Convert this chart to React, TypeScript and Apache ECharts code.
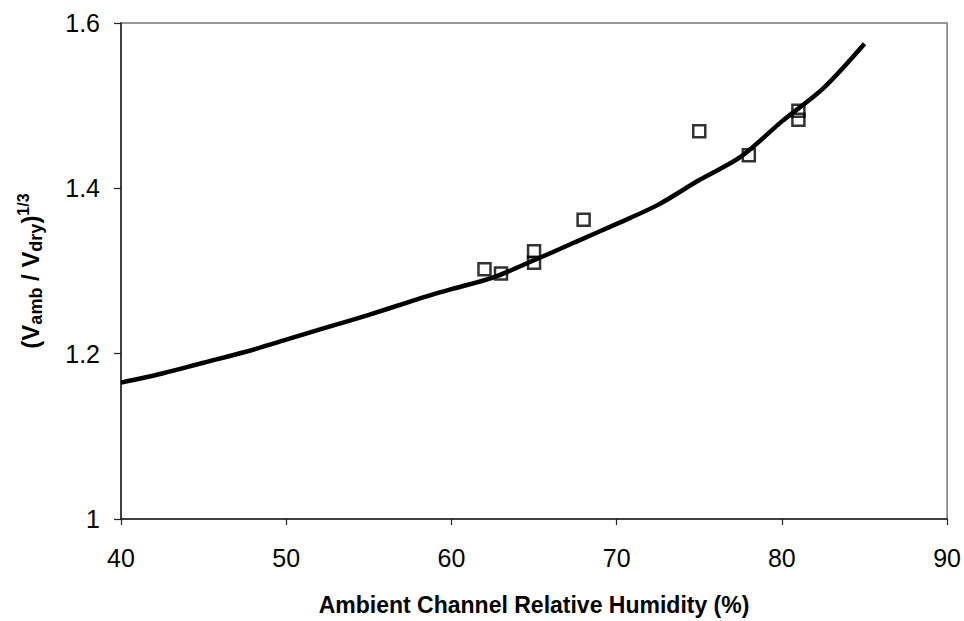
import React, { useEffect, useRef } from "react";
import * as echarts from "echarts";

const curveX = [40, 42.5, 45, 47.5, 50, 52.5, 55, 57.5, 58.7, 60, 62.5, 65, 67.5, 70, 72.5, 75, 77.5, 80, 82.5, 85];
const curveY = [1.165, 1.176, 1.189, 1.202, 1.217, 1.232, 1.247, 1.263, 1.2705, 1.278, 1.292, 1.313, 1.335, 1.357, 1.38, 1.41, 1.438, 1.481, 1.521, 1.575];

const obsX = [62, 63, 65, 65, 68, 75, 78, 81, 81];
const obsY = [1.302, 1.297, 1.324, 1.31, 1.362, 1.469, 1.44, 1.494, 1.483];

const xTitle = "Ambient Channel Relative Humidity (%)";

export default function App() {
  const ref = useRef<HTMLDivElement>(null);
  useEffect(() => {
    if (!ref.current) return;
    const chart = echarts.init(ref.current, undefined, { renderer: "svg" });
    const font = "'Liberation Sans', Arial, Helvetica, sans-serif";
    chart.setOption({
      animation: false,
      backgroundColor: "#ffffff",
      textStyle: { fontFamily: font },
      grid: {
        left: 121,
        right: 15,
        top: 23,
        bottom: 95,
        show: true,
        borderColor: "#777",
        borderWidth: 1.5,
        backgroundColor: "transparent",
      },
      xAxis: {
        type: "value",
        min: 40,
        max: 90,
        interval: 10,
        name: xTitle,
        nameLocation: "middle",
        nameGap: 74,
        nameTextStyle: { fontFamily: font, fontSize: 23, fontWeight: "bold", color: "#000" },
        axisLine: { show: true, lineStyle: { color: "#222", width: 1.5 } },
        axisTick: { show: true, length: 6, inside: false, lineStyle: { color: "#222", width: 1.2 } },
        axisLabel: { color: "#000", fontSize: 25, margin: 26, fontFamily: font },
        splitLine: { show: false },
      },
      yAxis: {
        type: "value",
        min: 1,
        max: 1.6,
        interval: 0.2,
        name: "{b|(V}{sub|amb}{b| / V}{sub|dry}{b|)}{sup|1/3}",
        nameLocation: "middle",
        nameGap: 76,
        nameRotate: 90,
        nameTextStyle: {
          fontFamily: font,
          color: "#000",
          rich: {
            b: { fontSize: 24, fontWeight: "bold", fontFamily: font, color: "#000", lineHeight: 30, verticalAlign: "middle" },
            sub: { fontSize: 18, fontWeight: "bold", fontFamily: font, color: "#000", lineHeight: 30, verticalAlign: "bottom" },
            sup: { fontSize: 16, fontWeight: "bold", fontFamily: font, color: "#000", lineHeight: 30, verticalAlign: "top" },
          },
        },
        axisLine: { show: true, lineStyle: { color: "#222", width: 1.5 } },
        axisTick: { show: true, length: 7, inside: false, lineStyle: { color: "#222", width: 1.2 } },
        axisLabel: {
          color: "#000",
          fontSize: 25,
          margin: 21,
          fontFamily: font,
          formatter: (v: number) => (Math.abs(v - 1) < 1e-9 ? "1" : v.toFixed(1)),
        },
        splitLine: { show: false },
      },
      series: [
        {
          type: "line",
          data: curveX.map((x, i) => [x, curveY[i]]),
          showSymbol: false,
          smooth: 0.3,
          lineStyle: { color: "#000", width: 4.5 },
          z: 2,
        },
        {
          type: "scatter",
          data: obsX.map((x, i) => [x, obsY[i]]),
          symbol: "rect",
          symbolSize: 12,
          itemStyle: { color: "transparent", borderColor: "#000", borderWidth: 2.5 },
          z: 3,
        },
      ],
    });
    return () => chart.dispose();
  }, []);
  return (
    <div
      ref={ref}
      style={{ position: "fixed", left: 0, top: 0, width: 964, height: 621, background: "#fff" }}
    />
  );
}
